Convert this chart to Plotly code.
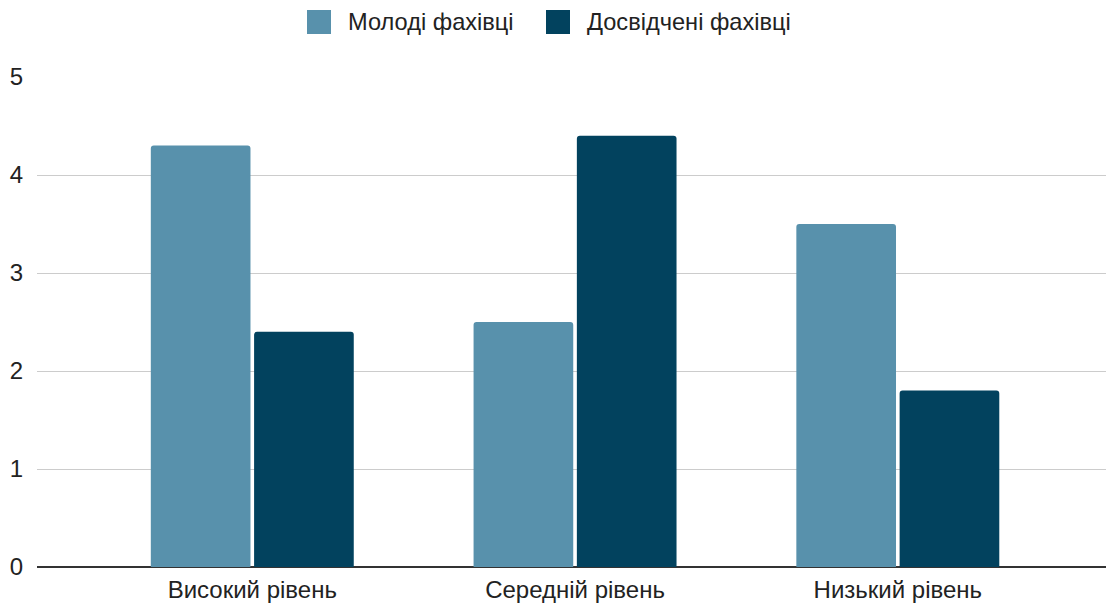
import plotly.graph_objects as go

categories = ["Високий рівень", "Середній рівень", "Низький рівень"]
young = [4.3, 2.5, 3.5]
experienced = [2.4, 4.4, 1.8]
series_names = ["Молоді фахівці", "Досвідчені фахівці"]
colors = ["#5891AC", "#02425E"]
y_ticks = [0, 1, 2, 3, 4, 5]

FONT = "Liberation Sans, Arial, sans-serif"

W, H = 1108, 606
ml, mr, mt, mb = 37, 2, 77, 39
pw, ph = W - ml - mr, H - mt - mb

def px_to_paper_x(px):
    return (px - ml) / pw

def px_to_paper_y(py):
    return (H - mb - py) / ph

fig = go.Figure()
for name, vals, col in zip(series_names, [young, experienced], colors):
    fig.add_trace(go.Bar(x=categories, y=vals, name=name,
                         marker=dict(color=col, cornerradius=3, line=dict(width=0)),
                         showlegend=False))

# legend: swatches + real text
legend_x = [307, 546]
for sx, name, col in zip(legend_x, series_names, colors):
    fig.add_shape(type="rect", xref="paper", yref="paper",
                  x0=px_to_paper_x(sx), x1=px_to_paper_x(sx + 24),
                  y0=px_to_paper_y(34), y1=px_to_paper_y(10),
                  fillcolor=col, line=dict(width=0), layer="above")
    fig.add_annotation(text=name, xref="paper", yref="paper",
                       x=px_to_paper_x(sx + 39), y=px_to_paper_y(22),
                       xanchor="left", yanchor="middle", showarrow=False,
                       font=dict(family=FONT, size=23.6, color="#222222"))

fig.update_layout(
    width=W, height=H,
    margin=dict(l=ml, r=mr, t=mt, b=mb, pad=0),
    paper_bgcolor="white", plot_bgcolor="white",
    barmode="group", bargap=0.36, bargroupgap=0.035,
    font=dict(family=FONT, size=24, color="#222222"),
    xaxis=dict(type="category", range=[-0.667, 2.645], showgrid=False,
               showline=False, zeroline=False, ticks="",
               tickfont=dict(family=FONT, size=24, color="#222222"),
               ticklabelstandoff=6, fixedrange=True),
    yaxis=dict(range=[0, 5], tickvals=y_ticks, showgrid=True,
               gridcolor="#CCCCCC", gridwidth=1,
               zeroline=True, zerolinecolor="#333333", zerolinewidth=1.5,
               showline=False, ticks="",
               tickfont=dict(family=FONT, size=24, color="#222222"),
               ticklabelstandoff=13, fixedrange=True),
)

fig.write_html("out.html")
